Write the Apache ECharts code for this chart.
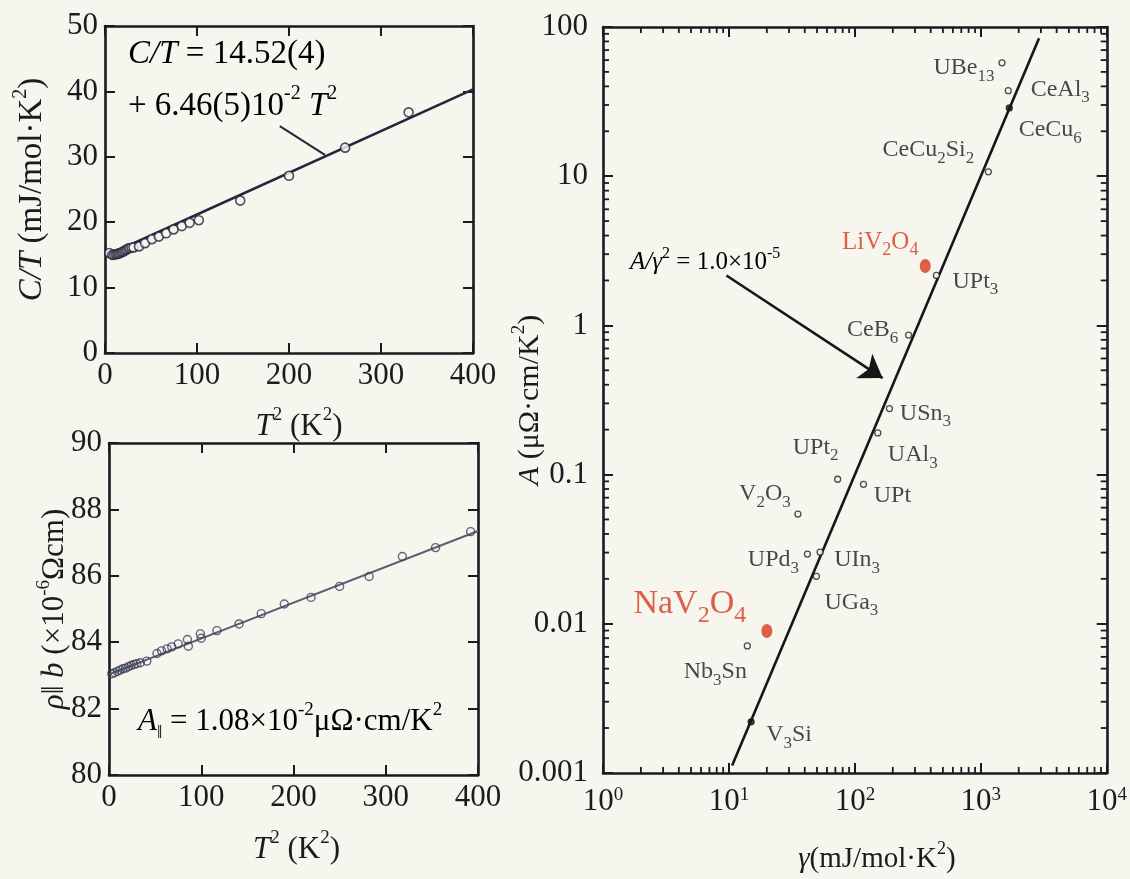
<!DOCTYPE html>
<html><head><meta charset="utf-8">
<script src="https://cdn.jsdelivr.net/npm/echarts@6/dist/echarts.min.js"></script>
<style>html,body{margin:0;padding:0;background:#f6f6ee;}#c{width:1130px;height:879px;}</style>
</head><body><div id="c"></div>
<script>
// ---- Panel (a): C/T vs T^2 ----
const ctT2  = [4.7, 8, 10, 12, 13.5, 15, 16.5, 18, 19.5, 21, 22.5, 24, 25.5, 27, 29, 31, 37, 43.5, 51, 58.5, 66.5, 74.5, 83.5, 92, 102, 147, 200, 261, 330];
const ctVal = [15.3, 15.0, 15.05, 15.1, 15.15, 15.2, 15.3, 15.4, 15.5, 15.6, 15.75, 15.85, 16.0, 16.05, 16.1, 16.15, 16.3, 16.8, 17.4, 17.8, 18.3, 18.9, 19.4, 19.9, 20.3, 23.3, 27.1, 31.4, 36.8];
const ctFitT2 = [0, 400];
const ctFitVal = [14.8, 40.3];
const ctPointerT2 = [190, 239];
const ctPointerVal = [34.7, 30.3];

// ---- Panel (b): rho || b vs T^2 ----
const rhoT2  = [3, 6, 9, 12, 15, 18, 21, 24, 27, 30, 34, 41, 52, 57, 63, 68, 75, 85, 86, 99, 100, 117, 141, 165, 190, 219, 250, 282, 318, 354, 392];
const rhoVal = [83.05, 83.08, 83.12, 83.16, 83.2, 83.22, 83.26, 83.3, 83.33, 83.35, 83.38, 83.43, 83.66, 83.74, 83.8, 83.86, 83.95, 84.08, 83.88, 84.25, 84.12, 84.35, 84.55, 84.86, 85.15, 85.35, 85.68, 85.98, 86.58, 86.85, 87.33];
const rhoFitT2 = [0, 400];
const rhoFitVal = [83.03, 87.35];

// ---- Panel (c): Kadowaki-Woods plot ----
const kwNames = ['UBe13','CeAl3','CeCu6','CeCu2Si2','UPt3','CeB6','USn3','UAl3','UPt','UPt2','V2O3','UPd3','UIn3','UGa3','Nb3Sn','V3Si'];
const kwGamma = [1473, 1652, 1683, 1148, 444, 267, 188, 152, 117, 73, 35.3, 42, 53, 49.5, 14.0, 15.0];
const kwA     = [57.5, 37.4, 28.7, 10.7, 2.16, 0.861, 0.277, 0.19, 0.086, 0.093, 0.0543, 0.0293, 0.0302, 0.0208, 0.0071, 0.0022];
const kwFilled = ['CeCu6', 'V3Si'];
const redNames = ['LiV2O4', 'NaV2O4'];
const redGamma = [362, 20.0];
const redA     = [2.50, 0.00894];
const kwLineGamma = [10.6, 2900];
const kwLineA     = [0.00112, 84.1];
const arrowGamma = [9.55, 166];
const arrowA     = [2.16, 0.443];
const xTickLabels = ['10{sup|0}', '10{sup|1}', '10{sup|2}', '10{sup|3}', '10{sup|4}'];
const yTickLabels = ['0.001', '0.01', '0.1', '1', '10', '100'];
const xMinorTicks = [2,3,4,5,6,7,8,9,20,30,40,50,60,70,80,90,200,300,400,500,600,700,800,900,2000,3000,4000,5000,6000,7000,8000,9000];
const yMinorTicks = [0.002,0.003,0.004,0.005,0.006,0.007,0.008,0.009,0.02,0.03,0.04,0.05,0.06,0.07,0.08,0.09,0.2,0.3,0.4,0.5,0.6,0.7,0.8,0.9,2,3,4,5,6,7,8,9,20,30,40,50,60,70,80,90];

// label layout (offsets of label centre from the point, px)
const kwLabelOffsets = [[-38,5],[52,-1],[41,22],[-60,-22],[39,6],[-36,-5],[36,5],[35,22],[29,11],[-22,-32],[-33,-20],[-34,6],[37,8],[35,26],[-32,26],[38,13]];
const redLabelOffsets = [[-45,-24],[-77,-27]];
const redLabelSizes = [25, 34];

const FF = 'Liberation Serif';
const INK = '#1a1a20';
const RED = '#d8391d';

function chem(s) {
  return s.replace(/[^0-9]+|[0-9]+/g, t => /\d/.test(t) ? '{s|' + t + '}' : '{n|' + t + '}');
}
function chemRich(size, color) {
  return {
    n: {fontFamily: FF, fontSize: size, lineHeight: size * 1.4, color: color},
    s: {fontFamily: FF, fontSize: Math.round(size * 0.7), lineHeight: Math.round(size * 0.7), verticalAlign: 'bottom', color: color}
  };
}
function supRich(size) {
  return {
    n: {fontFamily: FF, fontSize: size, lineHeight: size * 1.35, color: INK},
    i: {fontFamily: FF, fontSize: size, lineHeight: size * 1.35, fontStyle: 'italic', color: INK},
    sup: {fontFamily: FF, fontSize: Math.round(size * 0.62), lineHeight: Math.round(size * 0.62), verticalAlign: 'top', color: INK},
    sub: {fontFamily: FF, fontSize: Math.round(size * 0.6), lineHeight: Math.round(size * 0.6), verticalAlign: 'bottom', color: INK}
  };
}

const axLine = {onZero: false, lineStyle: {color: INK, width: 2.6}};
const axTick = {inside: true, length: 10, lineStyle: {color: INK, width: 2}};
const tickFont = {fontFamily: FF, fontSize: 31, color: INK};

function linX(grid, pos, min, max, interval, extra) {
  return Object.assign({
    type: 'value', gridIndex: grid, position: pos, min: min, max: max, interval: interval,
    axisLine: axLine, axisTick: axTick, splitLine: {show: false}, nameMoveOverlap: false,
    axisLabel: pos === 'bottom' || pos === 'left' ? Object.assign({margin: 7}, tickFont) : {show: false}
  }, extra || {});
}

const option = {
  animation: false,
  backgroundColor: '#f6f6ee',
  grid: [
    {left: 105, top: 26, width: 368, height: 327},
    {left: 109, top: 443, width: 369, height: 332},
    {left: 603, top: 27, width: 505, height: 751}
  ],
  xAxis: [
    linX(0, 'bottom', 0, 400, 100, {name: '{i|T}{sup|2}{n| (K}{sup|2}{n|)}', nameLocation: 'middle', nameGap: 53,
      nameTextStyle: {rich: supRich(31), padding: [0, 0, 0, 20]}}),
    linX(0, 'top', 0, 400, 100),
    linX(1, 'bottom', 0, 400, 100, {name: '{i|T}{sup|2}{n| (K}{sup|2}{n|)}', nameLocation: 'middle', nameGap: 54,
      nameTextStyle: {rich: supRich(31), padding: [0, 0, 0, 6]}}),
    linX(1, 'top', 0, 400, 100),
    {type: 'log', logBase: 10, gridIndex: 2, position: 'bottom', min: 1, max: 10000, nameMoveOverlap: false,
      axisLine: axLine, axisTick: axTick, splitLine: {show: false}, minorTick: {show: false},
      axisLabel: Object.assign({margin: 13, formatter: v => xTickLabels[Math.round(Math.log10(v))], rich: supRich(31)}, tickFont),
      name: '{i|γ}{n|(mJ/mol·K}{sup|2}{n|)}', nameLocation: 'middle', nameGap: 67,
      nameTextStyle: {rich: supRich(29), padding: [0, 0, 0, 44]}},
    {type: 'log', logBase: 10, gridIndex: 2, position: 'top', min: 1, max: 10000,
      axisLine: axLine, axisTick: axTick, splitLine: {show: false}, axisLabel: {show: false}}
  ],
  yAxis: [
    linX(0, 'left', 0, 50, 10, {name: '{i|C/T}{n| (mJ/mol·K}{sup|2}{n|)}', nameLocation: 'middle', nameGap: 50, nameRotate: 90,
      nameTextStyle: {rich: supRich(33)}}),
    linX(0, 'right', 0, 50, 10),
    linX(1, 'left', 80, 90, 2, {name: '{i|ρ}{n|‖}{i| b}{n| (×10}{sup|-6}{n|Ωcm)}', nameLocation: 'middle', nameGap: 33, nameRotate: 90,
      nameTextStyle: {rich: supRich(31)}}),
    linX(1, 'right', 80, 90, 2),
    {type: 'log', logBase: 10, gridIndex: 2, position: 'left', min: 0.001, max: 100, nameMoveOverlap: false,
      axisLine: axLine, axisTick: axTick, splitLine: {show: false},
      axisLabel: Object.assign({margin: 15, formatter: v => yTickLabels[Math.round(Math.log10(v)) + 3]}, tickFont),
      name: '{i|A}{n| (μΩ·cm/K}{sup|2}{n|)}', nameLocation: 'middle', nameGap: 53, nameRotate: 90,
      nameTextStyle: {rich: supRich(30)}},
    {type: 'log', logBase: 10, gridIndex: 2, position: 'right', min: 0.001, max: 100,
      axisLine: axLine, axisTick: axTick, splitLine: {show: false}, axisLabel: {show: false}}
  ],
  series: [
    {type: 'line', xAxisIndex: 0, yAxisIndex: 0, showSymbol: false, silent: true, z: 2,
      data: ctFitT2.map((x, i) => [x, ctFitVal[i]]), lineStyle: {color: '#23263d', width: 2.6},
      markLine: {silent: true, symbol: ['none', 'none'], label: {show: false}, lineStyle: {color: '#23263d', width: 2, type: 'solid'},
        data: [[{coord: [ctPointerT2[0], ctPointerVal[0]]}, {coord: [ctPointerT2[1], ctPointerVal[1]]}]]}},
    {type: 'scatter', xAxisIndex: 0, yAxisIndex: 0, symbol: 'circle', symbolSize: 9, z: 3,
      data: ctT2.map((x, i) => [x, ctVal[i]]),
      itemStyle: {color: '#f6f6ee', borderColor: '#23263d', borderWidth: 1.6}},
    {type: 'line', xAxisIndex: 2, yAxisIndex: 2, showSymbol: false, silent: true, z: 2,
      data: rhoFitT2.map((x, i) => [x, rhoFitVal[i]]), lineStyle: {color: '#5b5f73', width: 2}},
    {type: 'scatter', xAxisIndex: 2, yAxisIndex: 2, symbol: 'circle', symbolSize: 8, z: 3,
      data: rhoT2.map((x, i) => [x, rhoVal[i]]),
      itemStyle: {color: 'rgba(0,0,0,0)', borderColor: '#3c3f58', borderWidth: 1.4}},
    {type: 'line', xAxisIndex: 4, yAxisIndex: 4, showSymbol: false, silent: true, z: 2,
      data: kwLineGamma.map((x, i) => [x, kwLineA[i]]), lineStyle: {color: '#161616', width: 2.6},
      markLine: {silent: true, symbol: ['none', 'arrow'], symbolSize: 22, label: {show: false},
        lineStyle: {color: '#161616', width: 2.6, type: 'solid'},
        data: [[{coord: [arrowGamma[0], arrowA[0]]}, {coord: [arrowGamma[1], arrowA[1]]}]]}},
    {type: 'scatter', xAxisIndex: 4, yAxisIndex: 4, symbol: 'circle', symbolSize: 6, z: 3,
      data: kwNames.map((n, i) => ({
        value: [kwGamma[i], kwA[i]],
        itemStyle: kwFilled.includes(n) ? {color: '#161616', borderColor: '#161616'} : undefined,
        label: {offset: kwLabelOffsets[i]}
      })),
      itemStyle: {color: '#f6f6ee', borderColor: '#222', borderWidth: 1.3},
      label: {show: true, position: 'inside', align: 'center', verticalAlign: 'middle',
        formatter: p => chem(kwNames[p.dataIndex]), rich: chemRich(24, INK)}},
    {type: 'scatter', xAxisIndex: 4, yAxisIndex: 4, symbol: 'circle', symbolSize: [11, 14], z: 3,
      data: redNames.map((n, i) => ({
        value: [redGamma[i], redA[i]],
        label: {offset: redLabelOffsets[i], rich: chemRich(redLabelSizes[i], RED)}
      })),
      itemStyle: {color: RED},
      label: {show: true, position: 'inside', align: 'center', verticalAlign: 'middle',
        formatter: p => chem(redNames[p.dataIndex])}},
    {type: 'custom', xAxisIndex: 4, yAxisIndex: 4, silent: true, z: 4, clip: false,
      data: xMinorTicks.map(v => [v, 1]),
      renderItem: (params, api) => {
        const v = api.value(0);
        const b = api.coord([v, 0.001]), t = api.coord([v, 100]);
        const st = {stroke: INK, lineWidth: 1.8};
        return {type: 'group', children: [
          {type: 'line', shape: {x1: b[0], y1: b[1], x2: b[0], y2: b[1] - 6}, style: st},
          {type: 'line', shape: {x1: t[0], y1: t[1], x2: t[0], y2: t[1] + 6}, style: st}
        ]};
      }},
    {type: 'custom', xAxisIndex: 4, yAxisIndex: 4, silent: true, z: 4, clip: false,
      data: yMinorTicks.map(v => [10, v]),
      renderItem: (params, api) => {
        const v = api.value(1);
        const l = api.coord([1, v]), r = api.coord([10000, v]);
        const st = {stroke: INK, lineWidth: 1.8};
        return {type: 'group', children: [
          {type: 'line', shape: {x1: l[0], y1: l[1], x2: l[0] + 6, y2: l[1]}, style: st},
          {type: 'line', shape: {x1: r[0], y1: r[1], x2: r[0] - 6, y2: r[1]}, style: st}
        ]};
      }}
  ],
  graphic: [
    {type: 'text', left: 128, top: 38, silent: true,
      style: {text: '{i|C/T}{n| = 14.52(4)}', rich: supRich(33)}},
    {type: 'text', left: 128, top: 84, silent: true,
      style: {text: '{n|+ 6.46(5)10}{sup|-2}{n| }{i|T}{sup|2}', rich: supRich(33)}},
    {type: 'text', left: 138, top: 701, silent: true,
      style: {text: '{i|A}{sub|‖}{n| = 1.08×10}{sup|-2}{n|μΩ·cm/K}{sup|2}', rich: supRich(31)}},
    {type: 'text', left: 630, top: 246, silent: true,
      style: {text: '{i|A/γ}{sup|2}{n| = 1.0×10}{sup|-5}', rich: supRich(25)}}
  ]
};
const chart = echarts.init(document.getElementById('c'), null, {renderer: 'canvas'});
chart.setOption(option);
</script></body></html>
